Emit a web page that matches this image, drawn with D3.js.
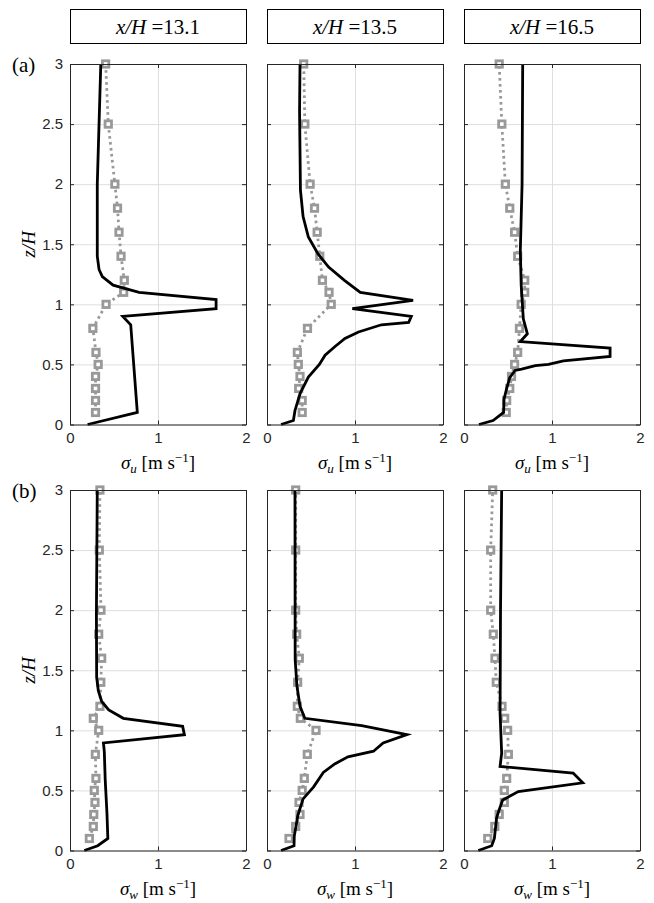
<!DOCTYPE html>
<html>
<head>
<meta charset="utf-8">
<script src="https://cdn.jsdelivr.net/npm/d3@7.9.0/dist/d3.min.js"></script>
<style>
  body { margin: 0; background: #fff; }
  svg { display: block; }
  .tick text { font-family: "Liberation Sans", Arial, sans-serif; font-size: 15px; fill: #262626; }
  .serif { font-family: "Liberation Serif", "DejaVu Serif", serif; fill: #000; }
</style>
</head>
<body>
<div id="chart"></div>
<script>
// stations (column titles)
const stations = ["13.1", "13.5", "16.5"];
const rowLetters = ["(a)", "(b)"];
const xTicks = [0, 1, 2];
const zTicks = [0, 0.5, 1, 1.5, 2, 2.5, 3];

// measurement heights, z/H
const zObs = [0.1, 0.2, 0.3, 0.4, 0.5, 0.6, 0.8, 1.0, 1.1, 1.2, 1.4, 1.6, 1.8, 2.0, 2.5, 3.0];

// measured sigma_u (gray squares)
const obsU131 = [0.29, 0.29, 0.29, 0.29, 0.32, 0.295, 0.26, 0.41, 0.61, 0.617, 0.58, 0.557, 0.54, 0.51, 0.435, 0.405];
const obsU135 = [0.40, 0.40, 0.36, 0.375, 0.356, 0.345, 0.46, 0.73, 0.705, 0.63, 0.60, 0.57, 0.54, 0.49, 0.43, 0.417];
const obsU165 = [0.48, 0.485, 0.52, 0.54, 0.575, 0.61, 0.63, 0.65, 0.69, 0.69, 0.61, 0.575, 0.52, 0.47, 0.43, 0.40];

// measured sigma_w (gray squares)
const obsW131 = [0.22, 0.265, 0.27, 0.284, 0.276, 0.295, 0.288, 0.326, 0.265, 0.34, 0.35, 0.36, 0.326, 0.352, 0.333, 0.34];
const obsW135 = [0.25, 0.326, 0.375, 0.364, 0.40, 0.424, 0.458, 0.557, 0.379, 0.345, 0.348, 0.367, 0.337, 0.326, 0.326, 0.326];
const obsW165 = [0.27, 0.35, 0.40, 0.458, 0.458, 0.485, 0.504, 0.496, 0.462, 0.432, 0.367, 0.352, 0.333, 0.303, 0.303, 0.326];

// simulated profiles (black line), [sigma, z/H]
const lesU131 = [[0.2, 0], [0.765, 0.1], [0.69, 0.83], [0.6, 0.9], [1.66, 0.964], [1.66, 1.04], [0.785, 1.1],
  [0.49, 1.16], [0.367, 1.23], [0.33, 1.29], [0.31, 1.4], [0.31, 2.0], [0.33, 2.5], [0.35, 3.0]];
const lesU135 = [[0.16, 0], [0.30, 0.033], [0.318, 0.117], [0.375, 0.256], [0.47, 0.394], [0.595, 0.5],
  [0.66, 0.577], [0.77, 0.647], [0.886, 0.716], [1.04, 0.77], [1.30, 0.83], [1.61, 0.85], [1.64, 0.9],
  [0.97, 0.964], [1.66, 1.033], [1.06, 1.1], [0.88, 1.2], [0.70, 1.31], [0.58, 1.42], [0.47, 1.56],
  [0.41, 1.73], [0.38, 1.95], [0.375, 2.28], [0.37, 2.6], [0.375, 3.0]];
const lesU165 = [[0.17, 0], [0.33, 0.033], [0.45, 0.1], [0.455, 0.21], [0.485, 0.3], [0.52, 0.39],
  [0.58, 0.45], [0.655, 0.46], [0.81, 0.49], [0.96, 0.5], [1.13, 0.53], [1.66, 0.567], [1.66, 0.636],
  [0.64, 0.69], [0.72, 0.755], [0.674, 0.88], [0.65, 1.16], [0.64, 1.45], [0.66, 2.0], [0.667, 3.0]];

const lesW131 = [[0.163, 0], [0.315, 0.04], [0.43, 0.1], [0.42, 0.31], [0.40, 0.59], [0.39, 0.82],
  [0.38, 0.895], [1.30, 0.964], [1.28, 1.033], [0.606, 1.1], [0.44, 1.17], [0.36, 1.24], [0.322, 1.33],
  [0.303, 1.44], [0.30, 1.97], [0.31, 3.0]];
const lesW135 = [[0.16, 0], [0.307, 0.04], [0.31, 0.12], [0.35, 0.29], [0.41, 0.43], [0.53, 0.53],
  [0.64, 0.65], [0.77, 0.72], [0.92, 0.78], [1.21, 0.826], [1.32, 0.895], [1.59, 0.964], [1.076, 1.04],
  [0.43, 1.1], [0.375, 1.2], [0.34, 1.37], [0.32, 1.59], [0.318, 3.0]];
const lesW165 = [[0.163, 0], [0.315, 0.04], [0.345, 0.1], [0.37, 0.27], [0.40, 0.34], [0.44, 0.42],
  [0.617, 0.49], [1.35, 0.563], [1.24, 0.645], [0.41, 0.70], [0.428, 0.81], [0.41, 1.14], [0.415, 2.0],
  [0.428, 3.0]];

const obsRows = [[obsU131, obsU135, obsU165], [obsW131, obsW135, obsW165]];
const lesRows = [[lesU131, lesU135, lesU165], [lesW131, lesW135, lesW165]];
const subs = ["u", "w"];

const W = 654, H = 903;
const colX = [70, 267, 464];
const rowY = [64, 490];
const pw = 176, ph = 360.5;

const svg = d3.select("#chart").append("svg")
  .attr("width", W).attr("height", H);

const x = d3.scaleLinear().domain([0, 2]).range([0, pw]);
const y = d3.scaleLinear().domain([0, 3]).range([ph, 0]);

const line = d3.line().x(d => x(d[0])).y(d => y(d[1]));

// column titles
stations.forEach((s, c) => {
  const g = svg.append("g").attr("transform", `translate(${colX[c]},9)`);
  g.append("rect").attr("x", 0.5).attr("y", 0.5).attr("width", pw).attr("height", 34)
    .attr("fill", "#fff").attr("stroke", "#000").attr("stroke-width", 1);
  const t = g.append("text").attr("class", "serif").attr("x", pw / 2).attr("y", 24.5)
    .attr("text-anchor", "middle").attr("font-size", 21);
  t.append("tspan").attr("font-style", "italic").text("x/H");
  t.append("tspan").text(" =" + s);
});

rowY.forEach((ry, r) => {
  svg.append("text").attr("class", "serif").attr("x", 12).attr("y", ry + 8)
    .attr("font-size", 21).text(rowLetters[r]);

  svg.append("text").attr("class", "serif")
    .attr("transform", `translate(35,${ry + ph / 2}) rotate(-90)`)
    .attr("text-anchor", "middle").attr("font-size", 19).attr("font-style", "italic")
    .text("z/H");

  colX.forEach((cx, c) => {
    const g = svg.append("g").attr("transform", `translate(${cx},${ry})`);

    // grid
    g.append("g").attr("transform", `translate(0,${ph})`)
      .call(d3.axisBottom(x).tickValues(xTicks).tickSize(-ph).tickFormat(""))
      .call(a => a.select(".domain").remove())
      .selectAll("line").attr("stroke", "#dedede").attr("stroke-width", 1);
    g.append("g")
      .call(d3.axisLeft(y).tickValues(zTicks).tickSize(-pw).tickFormat(""))
      .call(a => a.select(".domain").remove())
      .selectAll("line").attr("stroke", "#dedede").attr("stroke-width", 1);

    // measurements: dotted line + squares
    const pts = obsRows[r][c].map((v, i) => [v, zObs[i]]);
    g.append("path").datum(pts).attr("d", line)
      .attr("fill", "none").attr("stroke", "#999").attr("stroke-width", 2.8)
      .attr("stroke-dasharray", "2.6,3.4");
    g.selectAll("rect.obs").data(pts).join("rect").attr("class", "obs")
      .attr("x", d => x(d[0]) - 3.2).attr("y", d => y(d[1]) - 3.2)
      .attr("width", 6.4).attr("height", 6.4)
      .attr("fill", "#fff").attr("stroke", "#999").attr("stroke-width", 2.8);

    // simulation
    g.append("path").datum(lesRows[r][c]).attr("d", line)
      .attr("fill", "none").attr("stroke", "#000").attr("stroke-width", 2.8)
      .attr("stroke-linejoin", "miter");

    // axes with inward ticks
    const bottom = g.append("g").attr("transform", `translate(0,${ph})`)
      .call(d3.axisBottom(x).tickValues(xTicks).tickSizeInner(-4).tickSizeOuter(0).tickPadding(8)
        .tickFormat(d3.format("d")));
    const top = g.append("g")
      .call(d3.axisTop(x).tickValues(xTicks).tickSizeInner(-4).tickSizeOuter(0).tickFormat(""));
    const left = g.append("g")
      .call(d3.axisLeft(y).tickValues(zTicks).tickSizeInner(-4).tickSizeOuter(0).tickPadding(7)
        .tickFormat(c === 0 ? d3.format("") : ""));
    const right = g.append("g").attr("transform", `translate(${pw},0)`)
      .call(d3.axisRight(y).tickValues(zTicks).tickSizeInner(-4).tickSizeOuter(0).tickFormat(""));
    [bottom, top, left, right].forEach(a => {
      a.select(".domain").attr("stroke", "#262626").attr("stroke-width", 1);
      a.selectAll(".tick line").attr("stroke", "#262626");
    });

    // x label
    const xl = g.append("text").attr("class", "serif").attr("x", pw / 2).attr("y", ph + 44)
      .attr("text-anchor", "middle").attr("font-size", 19);
    xl.append("tspan").attr("font-style", "italic").text("σ");
    xl.append("tspan").attr("font-style", "italic").attr("font-size", 13).attr("dy", 4).text(subs[r]);
    xl.append("tspan").attr("dy", -4).text("  [m s");
    xl.append("tspan").attr("font-size", 13).attr("dy", -7).text("−1");
    xl.append("tspan").attr("dy", 7).text("]");
  });
});
</script>
</body>
</html>
